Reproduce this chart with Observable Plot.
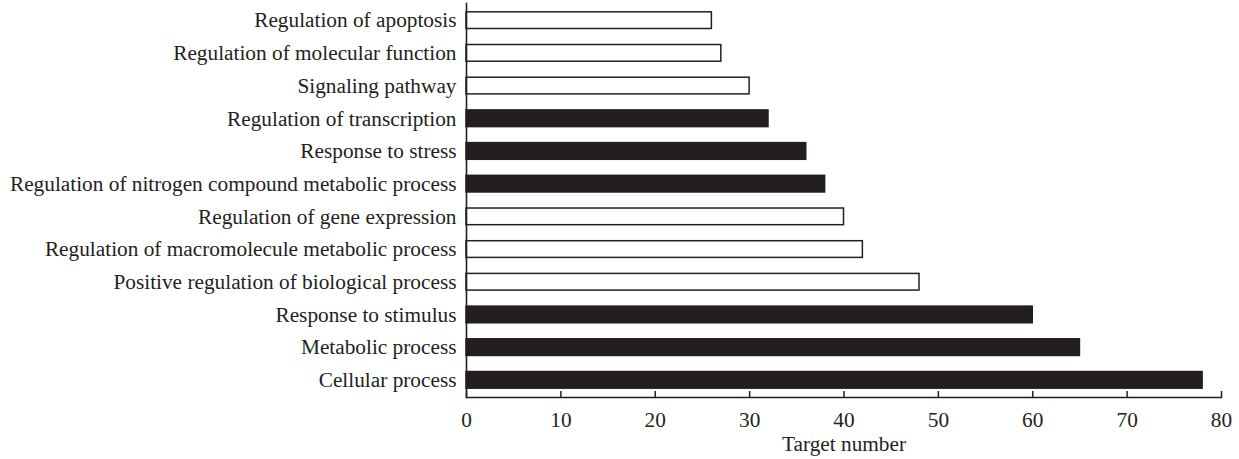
<!DOCTYPE html>
<html>
<head>
<meta charset="utf-8">
<script src="https://cdn.jsdelivr.net/npm/d3@7"></script>
<script src="https://cdn.jsdelivr.net/npm/@observablehq/plot@0.6"></script>
<style>
  html, body { margin: 0; padding: 0; background: #fff; }
  #chart svg { display: block; }
</style>
</head>
<body>
<div id="chart"></div>
<script>
const categories = [
  "Regulation of apoptosis",
  "Regulation of molecular function",
  "Signaling pathway",
  "Regulation of transcription",
  "Response to stress",
  "Regulation of nitrogen compound metabolic process",
  "Regulation of gene expression",
  "Regulation of macromolecule metabolic process",
  "Positive regulation of biological process",
  "Response to stimulus",
  "Metabolic process",
  "Cellular process"
];
const values = [26, 27, 30, 32, 36, 38, 40, 42, 48, 60, 65, 78];
const groups = ["open", "open", "open", "filled", "filled", "filled", "open", "open", "open", "filled", "filled", "filled"];
const xTicks = [0, 10, 20, 30, 40, 50, 60, 70, 80];
const xLabel = "Target number";

const data = categories.map((c, i) => ({category: c, value: values[i], group: groups[i]}));
const ink = "#231f20";

const chart = Plot.plot({
  width: 1239,
  height: 459,
  marginLeft: 466,
  marginRight: 18,
  marginTop: 3,
  marginBottom: 62,
  style: {fontFamily: "'Liberation Serif', 'Times New Roman', serif", fontSize: "21.3px", color: ink, background: "#fff"},
  x: {domain: [0, 80]},
  y: {domain: categories, paddingInner: 0.49, paddingOuter: 0.27, round: false},
  color: {domain: ["open", "filled"], range: ["#ffffff", ink]},
  marks: [
    Plot.barX(data, {x: "value", y: "category", fill: "group", stroke: ink, strokeWidth: 1.5}),
    Plot.frame({anchor: "left", stroke: ink, strokeWidth: 1.6}),
    Plot.frame({anchor: "bottom", stroke: ink, strokeWidth: 1.6}),
    Plot.axisX(xTicks, {anchor: "bottom", tickSize: 6, dy: -6, tickFormat: null, text: null, label: null, stroke: ink, strokeWidth: 1.5}),
    Plot.axisX(xTicks, {anchor: "bottom", tickSize: 0, tickPadding: 14, fontSize: 21.3, fill: ink, label: xLabel, labelAnchor: "center", labelArrow: "none", labelOffset: 53}),
    Plot.axisY({anchor: "left", tickSize: 0, tickPadding: 10, fontSize: 21.3, fill: ink, label: null})
  ]
});
document.getElementById("chart").appendChild(chart);
</script>
</body>
</html>
